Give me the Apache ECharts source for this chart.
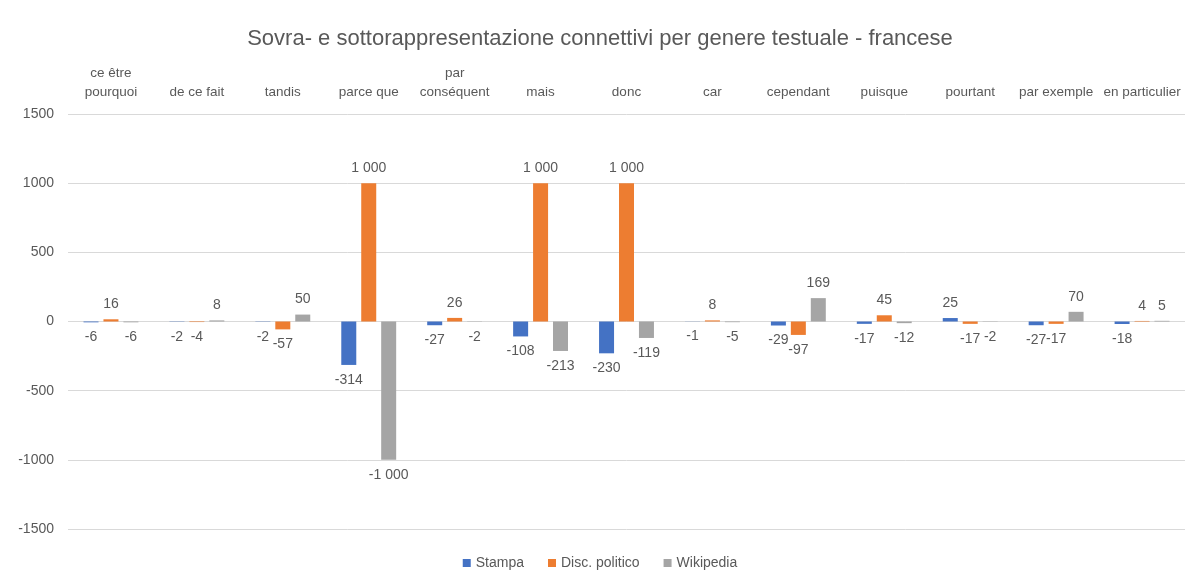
<!DOCTYPE html>
<html>
<head>
<meta charset="utf-8">
<script src="https://cdn.jsdelivr.net/npm/echarts@6/dist/echarts.min.js"></script>
<style>
html,body{margin:0;padding:0;background:#fff;}
#chart{width:1200px;height:587px;}
</style>
</head>
<body>
<div id="chart"></div>
<script>
const categories = ['ce être\npourquoi', 'de ce fait', 'tandis', 'parce que', 'par\nconséquent', 'mais', 'donc', 'car', 'cependant', 'puisque', 'pourtant', 'par exemple', 'en particulier'];
const stampa = [-6, -2, -2, -314, -27, -108, -230, -1, -29, -17, 25, -27, -18];
const discPolitico = [16, -4, -57, 1000, 26, 1000, 1000, 8, -97, 45, -17, -17, 4];
const wikipedia = [-6, 8, 50, -1000, -2, -213, -119, -5, 169, -12, -2, 70, 5];
const yTicks = { min: -1500, max: 1500, interval: 500 };

const fontFamily = "'Liberation Sans', Arial, sans-serif";
const txtColor = '#595959';

function fmt(v) {
  const s = String(Math.abs(v)).replace(/\B(?=(\d{3})+(?!\d))/g, ' ');
  return (v < 0 ? '-' : '') + s;
}
function toData(arr) {
  return arr.map(v => ({
    value: v,
    label: { position: v < 0 ? 'bottom' : 'top' }
  }));
}
function mkSeries(name, arr, color) {
  return {
    name: name,
    type: 'bar',
    data: toData(arr),
    barWidth: 15,
    barGap: '33%',
    itemStyle: { color: color },
    label: {
      show: true,
      distance: 8,
      color: txtColor,
      fontSize: 14,
      fontFamily: fontFamily,
      formatter: p => fmt(p.value)
    }
  };
}

const chart = echarts.init(document.getElementById('chart'));
chart.setOption({
  backgroundColor: '#fff',
  animation: false,
  title: {
    text: 'Sovra- e sottorappresentazione connettivi per genere testuale - francese',
    left: 'center',
    top: 23,
    textStyle: { color: txtColor, fontSize: 22, fontWeight: 'normal', fontFamily: fontFamily }
  },
  legend: {
    bottom: 12,
    left: 'center',
    itemWidth: 8,
    itemHeight: 8,
    itemGap: 24,
    icon: 'rect',
    textStyle: { color: txtColor, fontSize: 14, fontFamily: fontFamily },
    data: ['Stampa', 'Disc. politico', 'Wikipedia']
  },
  grid: { left: 68, right: 15, top: 114, bottom: 58, containLabel: false },
  xAxis: {
    type: 'category',
    position: 'top',
    data: categories,
    axisLine: { show: false },
    axisTick: { show: false },
    axisLabel: {
      interval: 0,
      margin: 12,
      color: txtColor,
      fontSize: 13.5,
      lineHeight: 19,
      fontFamily: fontFamily
    }
  },
  yAxis: {
    type: 'value',
    min: yTicks.min,
    max: yTicks.max,
    interval: yTicks.interval,
    axisLine: { show: false },
    axisTick: { show: false },
    axisLabel: { color: txtColor, fontSize: 14, fontFamily: fontFamily, margin: 14, formatter: v => String(v) },
    splitLine: { lineStyle: { color: '#d9d9d9', width: 1 } }
  },
  series: [
    mkSeries('Stampa', stampa, '#4472C4'),
    mkSeries('Disc. politico', discPolitico, '#ED7D31'),
    mkSeries('Wikipedia', wikipedia, '#A5A5A5')
  ]
});
</script>
</body>
</html>
